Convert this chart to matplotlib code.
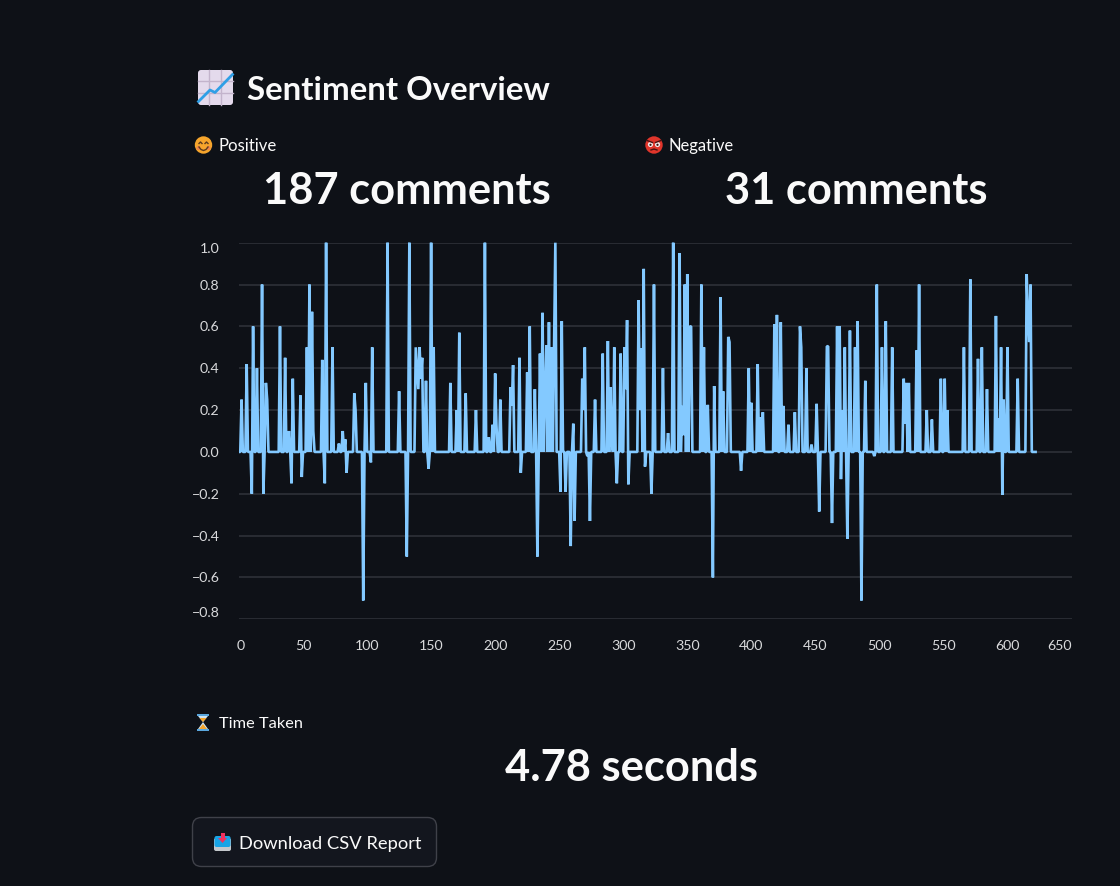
import numpy as np
import matplotlib
matplotlib.use('Agg')
import matplotlib.pyplot as plt
from matplotlib.patches import FancyBboxPatch, Circle, Polygon, Rectangle
from matplotlib.transforms import ScaledTranslation

BG = '#0e1117'
LINE = '#83c9ff'
GRID = '#2b2e36'
TEXT = '#fafafa'
FONT = 'Lato'

# non-zero sentiment scores, every other comment scored 0
peak_idx = [2, 6, 10, 11, 14, 18, 19, 21, 22, 32, 36, 39, 41, 42, 48, 49, 53, 55, 57, 58,
            65, 67, 68, 73, 78, 81, 83, 84, 90, 91, 97, 99, 103, 104, 116, 125, 131, 133,
            138, 139, 140, 141, 142, 143, 146, 148, 150, 152, 165, 170, 172, 177, 185,
            192, 195, 198, 200, 201, 204, 212, 213, 214, 219, 220, 225, 227, 231, 233, 235,
            237, 239, 240, 242, 244, 246, 247, 251, 252, 255, 259, 261, 262,
            268, 269, 270, 272, 274, 278, 284, 288, 290, 291, 293, 295, 298, 301, 302, 303,
            304, 312, 313, 314, 316, 317, 322, 324, 331, 335, 339, 344, 346, 347, 348, 350,
            352, 353, 361, 363, 366, 370, 371, 376, 378, 382, 383, 392, 398, 400, 405, 407,
            409, 418, 420, 423, 425, 429, 434, 438, 439, 443, 447, 451, 453, 459, 460, 463,
            467, 469, 470, 471, 473, 475, 477, 481, 483, 486, 489, 496, 498, 502, 505, 510,
            519, 520, 521, 523, 529, 531, 537, 541, 548, 551, 553, 566, 571, 577, 580, 584,
            591, 593, 595, 596, 597, 600, 608, 615, 616, 617, 618]
peak_val = [.25, .42, -.2, .6, .4, .8, -.2, .33, .25, .6, .45, .1, -.15, .35, .27, -.12, .5, .8, .67, .1,
            .44, -.15, 1.0, .5, .04, .1, .06, -.1, .28, .2, -.71, .33, -.05, .5, 1.0, .29, -.5, 1.0,
            .5, .4, .3, .5, .35, .45, .34, -.08, 1.0, .5, .33, .2, .57, .28, .2,
            1.0, .07, .13, .375, .13, .25, .31, .22, .415, .45, -.1, .38, .6, .3, -.5, .47,
            .665, .27, .51, .62, .5, .5, 1.0, -.19, .625, -.19, -.45, .135, -.33,
            .35, .2, .5, -.02, -.33, .25, .47, .53, .31, .045, .5, -.15, .47, .5, .3, .63,
            -.155, .725, .2, .495, .875, -.07, -.2, .8, .4, .09, 1.0, .95, .22, .08, .8, .85,
            .6, .6, .8, .5, .225, -.6, .315, .74, .29, .55, .525, -.09, .4, .235, .42, .165,
            .19, .61, .655, .62, .22, .13, .19, .6, .5, .4, .035, .23, -.285, .505, .505, -.34,
            .6, .6, -.13, .2, .5, -.415, .58, .5, .625, -.71, .34, -.02, .8, .5, .625, .5,
            .35, .135, .33, .33, .485, .8, .2, .155, .35, .35, .2, .5, .825, .445, .5, .3,
            .65, .16, .5, -.205, .25, .5, .35, .85, .65, .525, .8]
n_comments = 624
scores = np.zeros(n_comments)
scores[peak_idx] = peak_val

x_ticks = list(range(0, 651, 50))
y_ticks = [-.8, -.6, -.4, -.2, 0, .2, .4, .6, .8, 1.0]

W, H = 1120, 886
fig = plt.figure(figsize=(W / 100, H / 100), dpi=100, facecolor=BG)

# line chart
ax = fig.add_axes([239 / W, 1 - 619.3 / H, (1071.5 - 239) / W, (619.3 - 242.7) / H], facecolor=BG)
ax.plot(np.arange(n_comments), scores, color=LINE, lw=1.9, solid_joinstyle='bevel',
        solid_capstyle='butt', clip_on=False)
ax.set_xlim(0, 650)
ax.set_ylim(-.8, 1.0)
ax.set_xticks(x_ticks)
ax.set_yticks(y_ticks)
ax.grid(axis='y', color=GRID, lw=1.3)
ax.set_axisbelow(True)
for s in ax.spines.values():
    s.set_visible(False)
ax.tick_params(length=0, labelcolor='#d8d9db', labelsize=10.2, pad=0)
ax.tick_params(axis='x', pad=15)
ax.tick_params(axis='y', pad=14)
for lab in ax.get_xticklabels() + ax.get_yticklabels():
    lab.set_fontfamily(FONT)
xl = ax.get_xticklabels()
xl[0].set_ha('left')
xl[0].set_transform(xl[0].get_transform() + ScaledTranslation(-.02, 0, fig.dpi_scale_trans))
xl[-1].set_ha('right')
yl = ax.get_yticklabels()
yl[0].set_va('bottom')
yl[-1].set_va('top')

# page layer in pixel coordinates
pg = fig.add_axes([0, 0, 1, 1], facecolor='none')
pg.set_xlim(0, W)
pg.set_ylim(H, 0)
pg.axis('off')


def label(x, y, s, size, weight='normal', ha='left', va='baseline', color=TEXT):
    pg.text(x, y, s, fontsize=size * .72, fontweight=weight, ha=ha, va=va, color=color, family=FONT)


label(247, 100, 'Sentiment Overview', 33, 'bold')
label(219, 151, 'Positive', 16.8)
label(669, 151, 'Negative', 16.5)
label(219, 728, 'Time Taken', 16.4)
label(406.5, 204, '187 comments', 43.4, 'bold', ha='center')
label(856.5, 204, '31 comments', 43.4, 'bold', ha='center')
label(631.5, 781, '4.78 seconds', 43.4, 'bold', ha='center')

# download button
pg.add_patch(FancyBboxPatch((192.5, 817.5), 244, 49, boxstyle='round,pad=0,rounding_size=9',
                            fc='#13161e', ec='#3f4149', lw=1))
label(239, 849, 'Download CSV Report', 18.4)

# chart emoji
pg.add_patch(FancyBboxPatch((198, 70), 35, 35, boxstyle='round,pad=0,rounding_size=3', fc='#e4daec', ec='none'))
for p in (208.5, 221):
    pg.plot([p, p], [70, 105], color='#c3b4cc', lw=1)
for p in (81, 93):
    pg.plot([198, 233], [p, p], color='#c3b4cc', lw=1)
pg.plot([198.5, 210, 215, 232.5], [101.5, 90, 92.5, 74.5], color='#2f9fe6', lw=2)

# smile emoji
pg.add_patch(Circle((203.5, 145), 8.7, fc='#f6a52c', ec='none'))
pg.add_patch(Circle((198.5, 148), 2, fc='#f0834a', ec='none'))
pg.add_patch(Circle((208.5, 148), 2, fc='#f0834a', ec='none'))
pg.plot([199, 200.5, 202], [143.5, 142, 143.5], color='#5c3a1e', lw=1)
pg.plot([205, 206.5, 208], [143.5, 142, 143.5], color='#5c3a1e', lw=1)
pg.plot([199, 201, 203.5, 206, 208], [147, 149.5, 150.5, 149.5, 147], color='#5c3a1e', lw=1)

# angry emoji
pg.add_patch(Circle((654, 145), 8.7, fc='#e0352b', ec='none'))
pg.add_patch(Circle((650.5, 144.5), 2.6, fc='#f4e8e8', ec='none'))
pg.add_patch(Circle((657.5, 144.5), 2.6, fc='#f4e8e8', ec='none'))
pg.add_patch(Circle((650.5, 144.8), 1.1, fc='#3a1414', ec='none'))
pg.add_patch(Circle((657.5, 144.8), 1.1, fc='#3a1414', ec='none'))
pg.plot([647, 652.5], [140.5, 142.5], color='#4a1212', lw=1)
pg.plot([661, 655.5], [140.5, 142.5], color='#4a1212', lw=1)
pg.plot([651, 654, 657], [150, 149, 150], color='#4a1212', lw=1)

# hourglass emoji
pg.add_patch(Polygon([(198, 716), (208, 716), (203, 722), (208, 729), (198, 729), (203, 722)], fc='#cfe6f5', ec='none'))
pg.add_patch(Polygon([(199.5, 718), (206.5, 718), (203, 722)], fc='#f6a52c', ec='none'))
pg.add_patch(Polygon([(199, 729), (207, 729), (203, 724)], fc='#f6a52c', ec='none'))
pg.add_patch(Rectangle((197, 714), 12, 2, fc='#5aa7dd', ec='none'))
pg.add_patch(Rectangle((197, 729), 12, 2, fc='#5aa7dd', ec='none'))

# inbox emoji
pg.add_patch(FancyBboxPatch((214, 838), 17, 13, boxstyle='round,pad=0,rounding_size=2', fc='#c4c8cc', ec='none'))
pg.add_patch(FancyBboxPatch((214.5, 836), 16, 11, boxstyle='round,pad=0,rounding_size=2', fc='#18a4e6', ec='none'))
pg.add_patch(Rectangle((220.5, 833), 4, 6, fc='#f0315e', ec='none'))
pg.add_patch(Polygon([(218, 838), (227, 838), (222.5, 843)], fc='#f0315e', ec='none'))

fig.savefig('out.png', dpi=100, facecolor=BG)
